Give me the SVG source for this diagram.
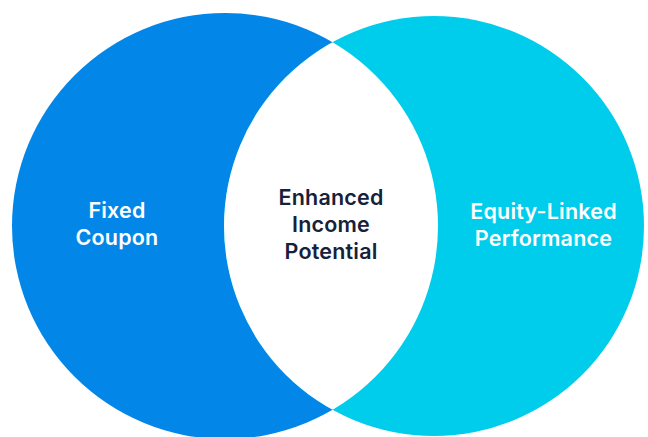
<svg xmlns="http://www.w3.org/2000/svg" width="648" height="437" viewBox="0 0 648 437">
  <style>
    .lbl { font-family: Inter, "Noto Sans", "Liberation Sans", sans-serif; font-size: 21.5px; font-weight: 600; text-anchor: middle; letter-spacing: 0.2px; }
    .light { fill: #ffffff; }
    .dark { fill: #16213a; }
  </style>
  <defs>
    <clipPath id="clipLeft">
      <circle cx="225" cy="226" r="213"/>
    </clipPath>
  </defs>
  <rect width="648" height="437" fill="#ffffff"/>
  <g id="fixed-coupon">
    <circle cx="225" cy="226" r="213" fill="#0287E8"/>
    <text class="lbl light" x="117" y="218">Fixed</text>
    <text class="lbl light" x="117" y="245">Coupon</text>
  </g>
  <g id="equity-linked">
    <circle cx="434" cy="226" r="210" fill="#00CDEB"/>
    <text class="lbl light" x="543.5" y="219">Equity-Linked</text>
    <text class="lbl light" x="543.5" y="246">Performance</text>
  </g>
  <g id="enhanced-income">
    <circle cx="434" cy="226" r="210" fill="#ffffff" clip-path="url(#clipLeft)"/>
    <text class="lbl dark" x="331" y="205">Enhanced</text>
    <text class="lbl dark" x="331" y="232">Income</text>
    <text class="lbl dark" x="331" y="259">Potential</text>
  </g>
  <g id="connectors"></g>
</svg>
